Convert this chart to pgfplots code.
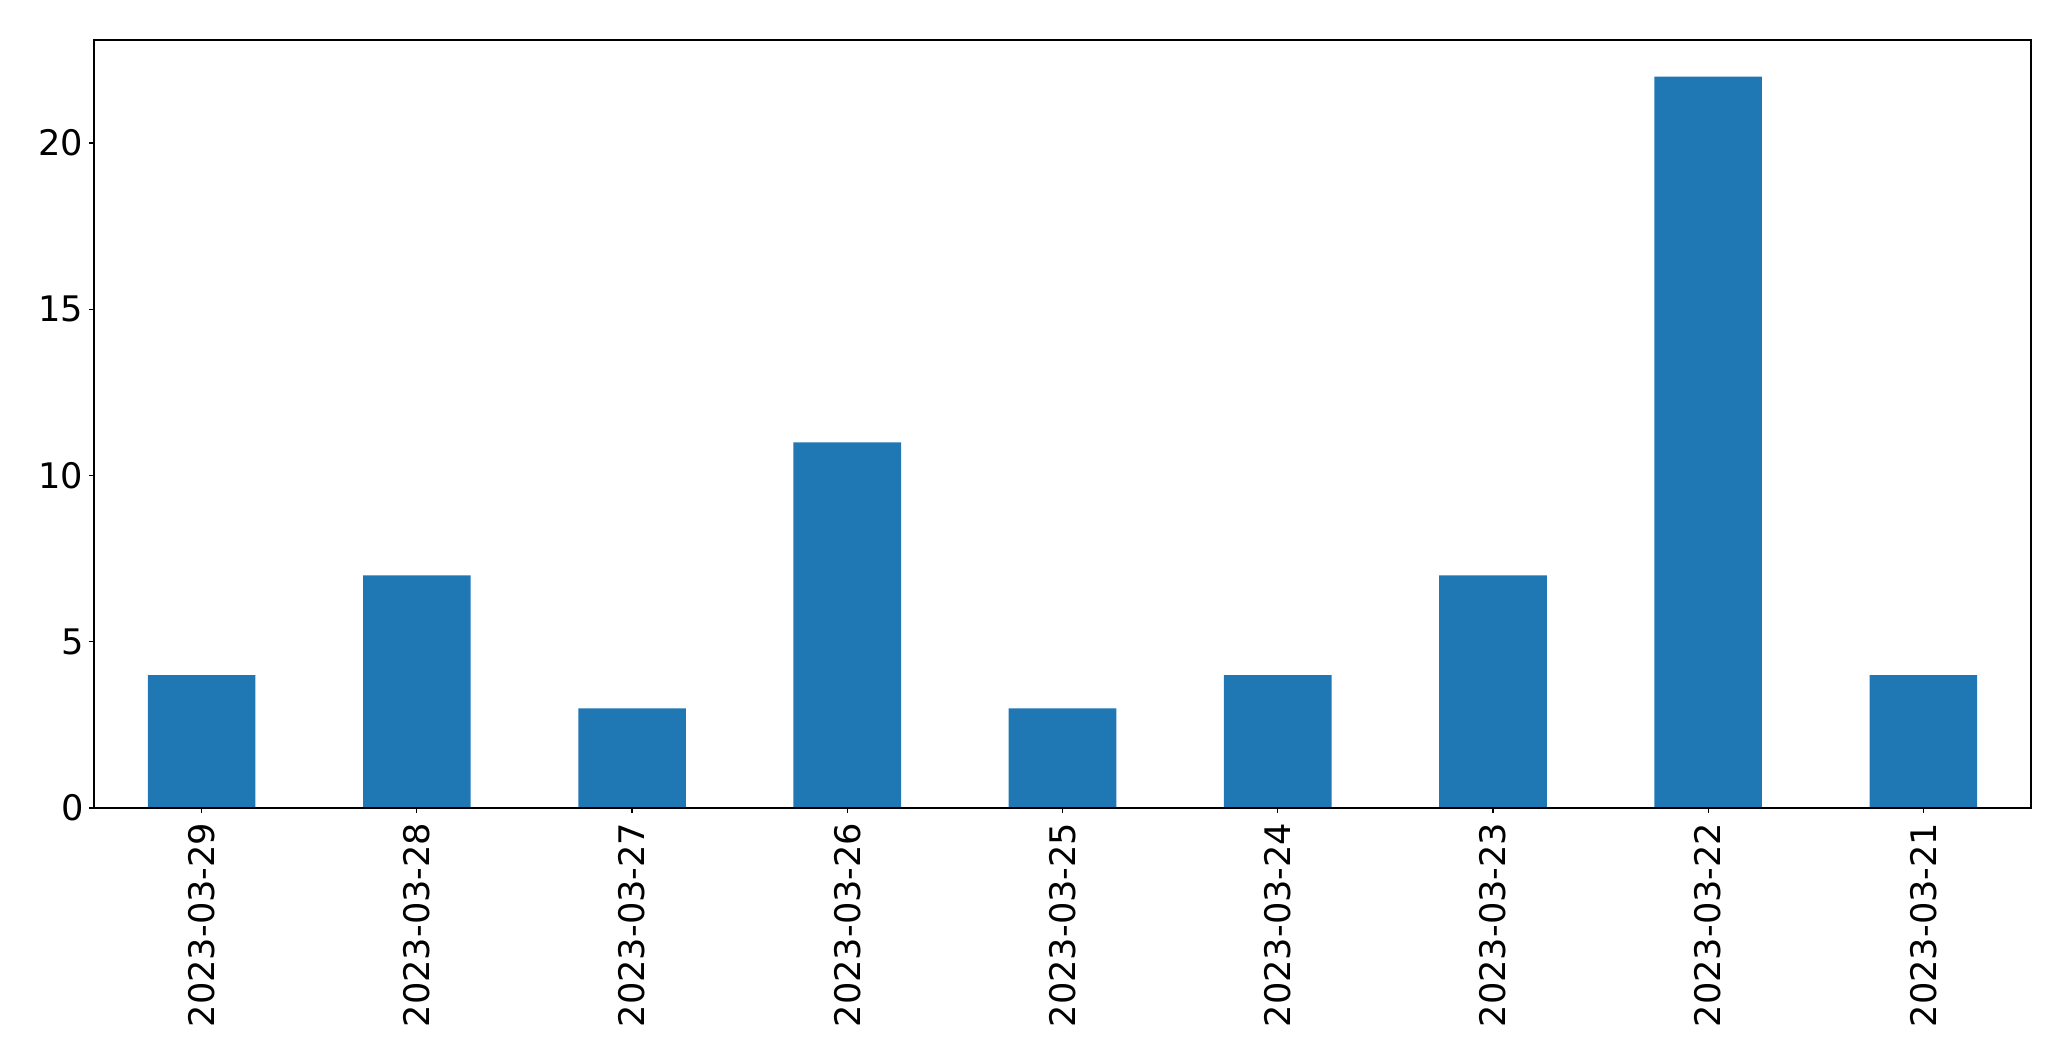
\documentclass[border=0pt]{standalone}
\usepackage{pgfplots}
\pgfplotsset{compat=1.18}
\usepackage{fontspec}
\setmainfont{DejaVu Sans}
\definecolor{mplblue}{HTML}{1F77B4}
\begin{document}
\begin{tikzpicture}
% fix the page to the reference's frame (1px = 0.25pt)
\useasboundingbox (-23.5pt,-63.25pt) rectangle (494.25pt,202pt);
\begin{axis}[
    at={(0,0)}, anchor=south west,
    scale only axis,
    width=484.25pt, height=192pt,
    xmin=-0.5, xmax=8.5,
    ymin=0, ymax=23.1,
    xtick=data,
    xticklabels={2023-03-29,2023-03-28,2023-03-27,2023-03-26,2023-03-25,2023-03-24,2023-03-23,2023-03-22,2023-03-21},
    ytick={0,5,10,15,20},
    tick align=outside,
    tick pos=left,
    major tick length=1.25pt,
    axis line style={line width=0.3pt},
    every tick/.style={black, line width=0.3pt},
    font=\fontsize{8.8}{10.5}\selectfont,
    /pgf/number format/assume math mode=true,
    x tick label style={rotate=90, anchor=east, inner sep=0pt, xshift=-2.2pt},
    y tick label style={inner sep=0pt, xshift=-1.2pt},
    ybar, bar width=0.5,
    axis on top,
]
\addplot[fill=mplblue, draw=none, bar shift=0pt] coordinates {
    (0,4) (1,7) (2,3) (3,11) (4,3) (5,4) (6,7) (7,22) (8,4)
};
\end{axis}
\end{tikzpicture}
\end{document}
